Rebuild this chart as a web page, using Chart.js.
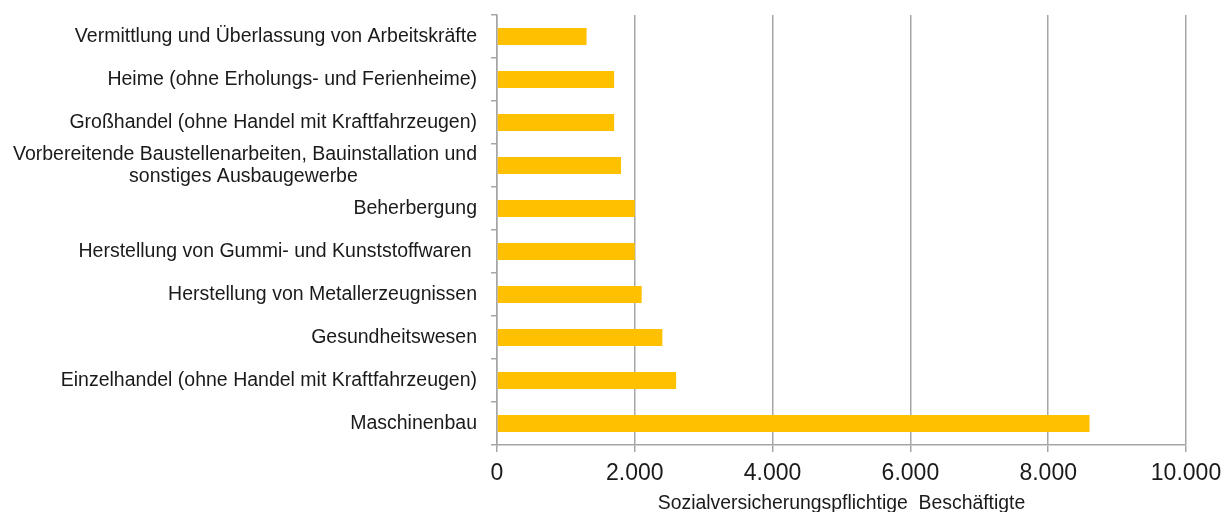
<!DOCTYPE html>
<html>
<head>
<meta charset="utf-8">
<script src="https://cdn.jsdelivr.net/npm/chart.js@4.4.1/dist/chart.umd.min.js"></script>
<style>
  html, body { margin: 0; padding: 0; background: #fff; }
  #wrap { width: 1231px; height: 512px; }
</style>
</head>
<body>
<div id="wrap"><canvas id="chart"></canvas></div>
<script>
// Branches, top to bottom as in the reference
// (second line of the long label is padded so it sits centred under the first)
const branchen = [
    "Vermittlung und Überlassung von Arbeitskräfte",
    "Heime (ohne Erholungs- und Ferienheime)",
    "Großhandel (ohne Handel mit Kraftfahrzeugen)",
    ["Vorbereitende Baustellenarbeiten, Bauinstallation und", "sonstiges Ausbaugewerbe" + " ".repeat(22)],
    "Beherbergung",
    "Herstellung von Gummi- und Kunststoffwaren ",
    "Herstellung von Metallerzeugnissen",
    "Gesundheitswesen",
    "Einzelhandel (ohne Handel mit Kraftfahrzeugen)",
    "Maschinenbau"
];

// Sozialversicherungspflichtige Beschäftigte
const beschaeftigte = [1300, 1700, 1700, 1800, 2000, 2000, 2100, 2400, 2600, 8600];

const xMin = 0;
const xMax = 10000;
const xStep = 2000;
const xTitle = "Sozialversicherungspflichtige  Beschäftigte";

const fmtDE = (v) => new Intl.NumberFormat('de-DE').format(v);
const fontFam = "'Liberation Sans', Arial, sans-serif";

const ctx = document.getElementById('chart');
new Chart(ctx, {
    type: 'bar',
    data: {
        labels: branchen,
        datasets: [{
            data: beschaeftigte,
            backgroundColor: '#FFC000',
            borderWidth: 0,
            categoryPercentage: 0.4,
            barPercentage: 1.0
        }]
    },
    options: {
        indexAxis: 'y',
        responsive: true,
        maintainAspectRatio: false,
        animation: false,
        layout: { padding: { top: 15, right: 45, bottom: 0, left: 0 } },
        plugins: {
            legend: { display: false },
            tooltip: { enabled: false }
        },
        scales: {
            x: {
                min: xMin, max: xMax,
                ticks: {
                    stepSize: xStep,
                    color: '#1a1a1a',
                    font: { family: fontFam, size: 23 },
                    padding: 8,
                    callback: (v) => fmtDE(v)
                },
                grid: { color: '#a6a6a6', lineWidth: 1.5, tickLength: 7, drawTicks: true },
                border: { color: '#a6a6a6', width: 1.5 },
                title: {
                    display: true, text: xTitle, color: '#1a1a1a',
                    font: { family: fontFam, size: 19.4 },
                    padding: { top: 5, bottom: -3 }
                },
                afterFit: (scale) => { scale.height = 67; }
            },
            y: {
                ticks: {
                    color: '#1a1a1a',
                    font: { family: fontFam, size: 19.5, lineHeight: 1.1 },
                    padding: 14,
                    autoSkip: false
                },
                grid: { drawOnChartArea: false, color: '#a6a6a6', lineWidth: 1.5, tickLength: 6 },
                border: { color: '#a6a6a6', width: 1.5 },
                afterFit: (scale) => {
                    scale.width = 497;
                    scale.paddingTop = 0;
                    scale.paddingBottom = 0;
                }
            }
        }
    }
});
</script>
</body>
</html>
